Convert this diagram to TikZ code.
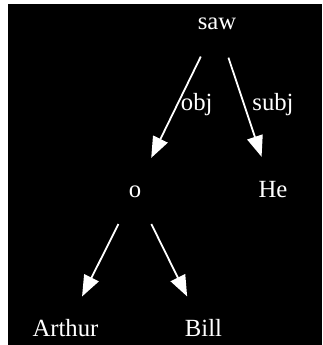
\documentclass[tikz,border=0pt]{standalone}
\usepackage{fontspec}
\setmainfont{Liberation Serif}
\usetikzlibrary{shapes.geometric,arrows.meta}
\definecolor{ink}{HTML}{FFFFFF}
\definecolor{bg}{HTML}{000000}

\begin{document}
\begin{tikzpicture}[x=1pt, y=-1pt, font=\fontsize{24.7}{29}\selectfont,
  w/.style={ellipse, inner sep=0pt, minimum width=95pt, minimum height=70pt,
            text=ink, text height=17pt, text depth=4pt},
  arr/.style={-{Triangle[length=21pt,width=16pt]}, draw=ink, line width=1.8pt},
  lbl/.style={text=ink, inner sep=0pt, anchor=west, text height=17pt,
              text depth=4pt, yshift=3pt},
]
\useasboundingbox (0,0) rectangle (322,345);
\fill[white] (0,0) rectangle (322,345);
\fill[bg] (8,4) rectangle (322,345);
\node[w] (saw) at (217, 23.5) {saw};
\node[w] (o) at (135, 191) {o};
\node[w] (he) at (273, 191) {He};
\node[w] (arthur) at (65.5, 329.5) {Arthur};
\node[w] (bill) at (203.5, 329.5) {Bill};
\draw[arr] (saw) -- node[lbl, xshift=4pt] {obj} (o);
\draw[arr] (saw) -- node[lbl, xshift=6.5pt] {subj} (he);
\draw[arr] (o) -- (arthur);
\draw[arr] (o) -- (bill);
\end{tikzpicture}
\end{document}
